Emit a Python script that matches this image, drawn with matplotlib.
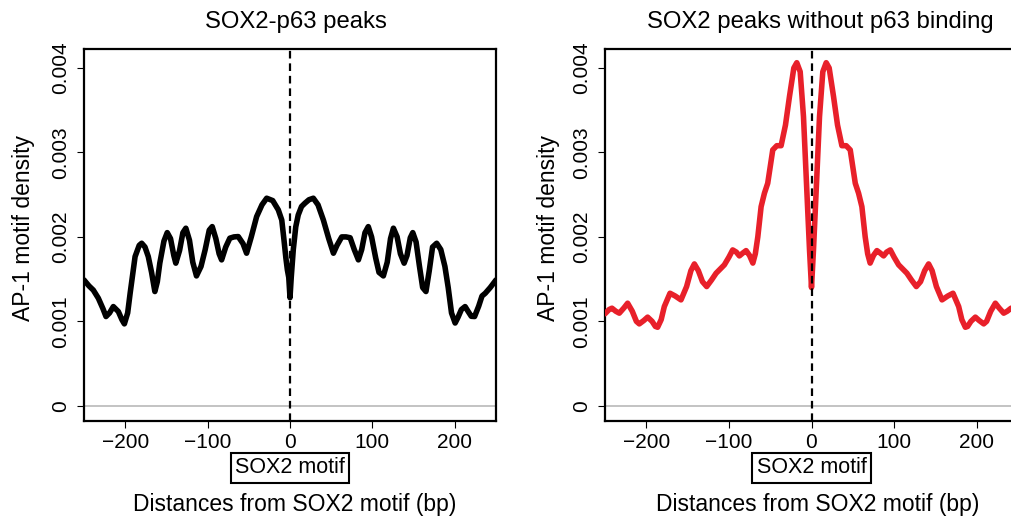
import matplotlib
matplotlib.use("Agg")
import matplotlib.pyplot as plt
import matplotlib.transforms as mtransforms

plt.rcParams['font.family'] = ['Liberation Sans', 'DejaVu Sans']
plt.rcParams['lines.scale_dashes'] = False

# ---- data ----
x_ticks = [-200, -100, 0, 100, 200]
y_ticks = [0, 0.001, 0.002, 0.003, 0.004]
y_tick_labels = ["0", "0.001", "0.002", "0.003", "0.004"]

titles = ["SOX2-p63 peaks", "SOX2 peaks without p63 binding"]
x_label = "Distances from SOX2 motif (bp)"
y_label = "AP-1 motif density"
motif_label = "SOX2 motif"

# SOX2-p63 peaks (black)
p63_pos = [-250, -244, -238.7, -232.6, -227, -223.3, -219, -214.4, -208.3, -204, -201,
           -197, -194, -188, -183, -180, -176, -172, -168, -164, -161, -158, -153, -149,
           -145, -141, -138.6, -134, -130, -126.4, -122, -118, -113.5, -108, -103, -98,
           -94.4, -90, -86, -83, -78, -73, -68, -62.8, -57, -52.7, -47, -40.5, -34,
           -28.3, -21, -14.2, -10, -7.3, -5, -3.2, -1.5, 0,
           1.5, 4, 7, 10, 14, 18.2, 23, 28.3, 34, 40.5, 47, 52.7, 57, 62.8, 68, 73,
           78, 83, 87, 91, 95, 99, 104, 108, 113.3, 118, 122, 125.5, 130, 134, 138.5,
           142, 146, 149, 153, 157, 161, 165, 169, 173, 178, 183, 188, 192, 196, 200.4,
           204, 208, 212.5, 216, 220, 224, 229, 233, 237, 243, 250]
p63_val = [0.00149, 0.00142, 0.00137, 0.001274, 0.00115, 0.001057, 0.00110, 0.001175,
           0.001116, 0.00102, 0.00097, 0.00110, 0.001333, 0.001767, 0.00190, 0.001925,
           0.00188, 0.001767, 0.00158, 0.001353, 0.00147, 0.001689, 0.00195, 0.002051,
           0.00198, 0.00178, 0.001689, 0.00184, 0.00205, 0.002103, 0.00196, 0.00170,
           0.001538, 0.00165, 0.001846, 0.00208, 0.002122, 0.00198, 0.00180, 0.001728,
           0.00188, 0.001985, 0.00200, 0.002004, 0.00192, 0.001807, 0.00200, 0.00224,
           0.00238, 0.002458, 0.00243, 0.00232, 0.00220, 0.001964, 0.00175, 0.00161,
           0.00152, 0.00128,
           0.00152, 0.00185, 0.00212, 0.00226, 0.00236, 0.00240, 0.00244, 0.002458,
           0.00238, 0.00220, 0.00198, 0.001807, 0.00190, 0.00200, 0.00200, 0.00199,
           0.00185, 0.001728, 0.00185, 0.00205, 0.002122, 0.00200, 0.00175, 0.00158,
           0.001538, 0.00170, 0.00198, 0.002103, 0.00200, 0.00180, 0.001689, 0.00178,
           0.00199, 0.002051, 0.00194, 0.00166, 0.00140, 0.001353, 0.00160, 0.00188,
           0.001925, 0.00185, 0.00165, 0.00140, 0.00110, 0.00098, 0.00105, 0.00114,
           0.001175, 0.00112, 0.00106, 0.001057, 0.00118, 0.00130, 0.001333, 0.00140,
           0.00149]

# SOX2 peaks without p63 binding (red)
nop63_pos = [-250, -245, -241.6, -237, -232.7, -227, -222.6, -217, -212, -208.5, -203,
             -198.4, -193, -189, -186.3, -182, -178.2, -171.3, -165, -158, -151.2,
             -146, -141.8, -137, -132, -126.9, -121, -115.5, -105.5, -100, -95.4,
             -91, -87.3, -83, -79.2, -75, -71, -68, -65, -61, -57, -53, -46.9, -42,
             -36.8, -31.5, -26.7, -21.4, -17.8, -13.7, -9.7, -5.7, -2.4, 0,
             2.4, 5.7, 9.7, 13.7, 17.8, 21.4, 26.7, 31.5, 36.8, 42, 46.9, 53, 57, 61,
             65, 68, 71, 75, 79.2, 83, 87.3, 91, 95.4, 100, 105.5, 115.5, 121, 126.9,
             132, 137, 141.8, 146, 151.2, 158, 165, 171.3, 178.2, 182, 186.3, 189,
             193, 198.4, 203, 208.5, 212, 217, 222.6, 227, 232.7, 237, 241.6, 245, 250]
nop63_val = [0.00109, 0.00114, 0.001156, 0.00112, 0.001097, 0.00116, 0.001215, 0.00112,
             0.00100, 0.00097, 0.00101, 0.00105, 0.00100, 0.00094, 0.00093, 0.00102,
             0.001175, 0.001333, 0.00130, 0.001254, 0.001412, 0.00160, 0.00168, 0.00160,
             0.00147, 0.001412, 0.00149, 0.00157, 0.001669, 0.00176, 0.001846, 0.00182,
             0.001775, 0.00181, 0.001838, 0.00178, 0.00169, 0.00180, 0.00200, 0.002358,
             0.002517, 0.002635, 0.00303, 0.00308, 0.00308, 0.003325, 0.00366, 0.00400,
             0.004063, 0.003956, 0.003424, 0.002556, 0.001846, 0.00140,
             0.001846, 0.002556, 0.003424, 0.003956, 0.004063, 0.00400, 0.00366,
             0.003325, 0.00308, 0.00308, 0.00303, 0.002635, 0.002517, 0.002358, 0.00200,
             0.00180, 0.00169, 0.00178, 0.001838, 0.00181, 0.001775, 0.00182, 0.001846,
             0.00176, 0.001669, 0.00157, 0.00149, 0.001412, 0.00147, 0.00160, 0.00168,
             0.00160, 0.001412, 0.001254, 0.00130, 0.001333, 0.001175, 0.00102, 0.00093,
             0.00094, 0.00100, 0.00105, 0.00101, 0.00097, 0.00100, 0.00112, 0.001215,
             0.00116, 0.001097, 0.00112, 0.001156, 0.00114, 0.00109]

series = [(p63_pos, p63_val, "#000000"), (nop63_pos, nop63_val, "#E8202A")]

# ---- figure ----
W, H = 1011, 518
fig = plt.figure(figsize=(W / 100, H / 100), dpi=100)

axes_rects = [
    [84 / W, (H - 421) / H, 412 / W, 372 / H],
    [605 / W, (H - 421) / H, 413 / W, 372 / H],
]
title_x = [296, 820]
xlabel_x = [295, 818]
ylabel_x = [24, 548]

for i, (xs, ys, col) in enumerate(series):
    ax = fig.add_axes(axes_rects[i])
    ax.set_xlim(-250, 250)
    ax.set_ylim(-0.00018, 0.004225)
    ax.axhline(0, color="#BEBEBE", lw=1.3, zorder=1)
    ax.plot(xs, ys, color=col, lw=4.0, solid_joinstyle="round",
            solid_capstyle="round", zorder=3)
    ax.axvline(0, color="black", lw=1.6, ls=(0, (5.5, 3.5)), zorder=4)

    for s in ax.spines.values():
        s.set_linewidth(1.6)
    ax.set_xticks(x_ticks)
    ax.set_xticklabels([str(t) if t >= 0 else "\u2212" + str(-t) for t in x_ticks],
                       fontsize=15)
    ax.set_yticks(y_ticks)
    ax.set_yticklabels(y_tick_labels, rotation=90, va="center", fontsize=15)
    ax.tick_params(direction="out", length=5, width=0.8, pad=4)
    ax.tick_params(axis="y", pad=5)

    ax.text(0, -0.126, motif_label, transform=mtransforms.blended_transform_factory(
        ax.transData, ax.transAxes), ha="center", va="center", fontsize=15.5,
        bbox=dict(boxstyle="square,pad=0.2", fc="white", ec="black", lw=1.5))

    fig.text(title_x[i] / W, (H - 22) / H, titles[i], ha="center", va="center",
             fontsize=17.2)
    fig.text(xlabel_x[i] / W, (H - 504) / H, x_label, ha="center", va="center",
             fontsize=16.5)
    fig.text(ylabel_x[i] / W, (H - 228) / H, y_label, ha="center", va="center",
             rotation=90, fontsize=16.5)

fig.savefig("out.png", dpi=100)
